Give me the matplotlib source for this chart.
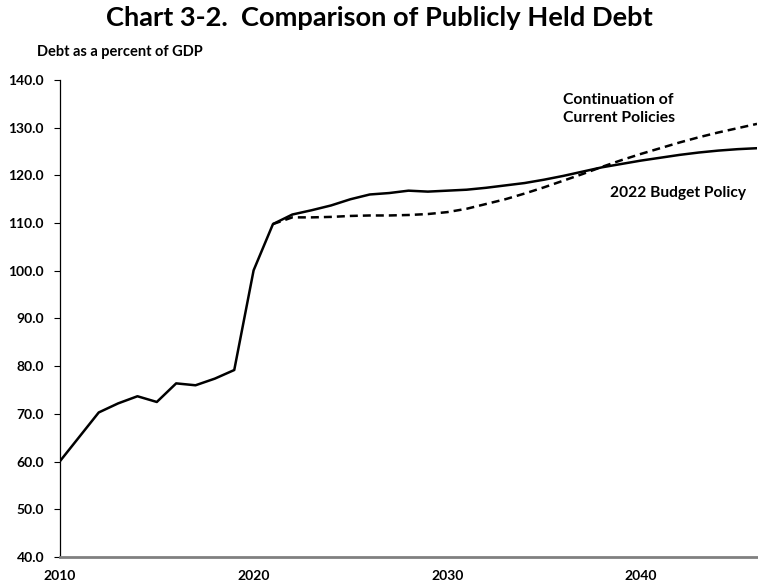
import matplotlib
matplotlib.use("Agg")
import matplotlib.pyplot as plt

years_hist = list(range(2010, 2047))
budget_policy = [60.1, 65.2, 70.3, 72.2, 73.7, 72.5, 76.4, 76.0, 77.4, 79.2,
                 100.1, 109.8, 111.8, 112.7, 113.7, 115.0, 116.0, 116.3, 116.8, 116.6,
                 116.8, 117.0, 117.4, 117.9, 118.4, 119.1, 119.9, 120.8, 121.7, 122.4,
                 123.1, 123.7, 124.3, 124.8, 125.2, 125.5, 125.7]
years_cur = list(range(2021, 2047))
current_policies = [109.8, 111.2, 111.2, 111.3, 111.5, 111.6, 111.6, 111.7, 111.9, 112.3,
                    113.0, 114.0, 115.0, 116.2, 117.5, 118.9, 120.3, 121.8, 123.2, 124.5,
                    125.7, 126.9, 128.0, 129.0, 129.9, 130.8]
y_ticks = [40, 50, 60, 70, 80, 90, 100, 110, 120, 130, 140]
x_ticks = [2010, 2020, 2030, 2040]

plt.rcParams['font.family'] = ['Lato', 'DejaVu Sans']
fig = plt.figure(figsize=(7.58, 5.86), dpi=100)
ax = fig.add_axes([60/758, 29/586, 697/758, 477/586])

ax.plot(years_cur, current_policies, color='black', lw=1.8, dashes=(3.2, 2.0), zorder=2)
ax.plot(years_hist, budget_policy, color='black', lw=1.8, zorder=3)

ax.set_xlim(2010, 2046)
ax.set_ylim(40, 140)
ax.set_yticks(y_ticks)
ax.set_yticklabels([f"{v:.1f}" for v in y_ticks], fontsize=10, fontweight='bold')
ax.set_xticks(x_ticks)
ax.set_xticklabels([str(v) for v in x_ticks], fontsize=10, fontweight='bold')
ax.tick_params(axis='y', direction='out', length=4.5, width=0.8, pad=7)
ax.tick_params(axis='x', length=0, pad=9.5)
ax.spines['top'].set_visible(False)
ax.spines['right'].set_visible(False)
ax.spines['left'].set_linewidth(0.9)
ax.spines['bottom'].set_color('#808080')
ax.spines['bottom'].set_linewidth(2)

fig.text(0.5, 1 - 18/586, "Chart 3-2.  Comparison of Publicly Held Debt", ha='center', va='center',
         fontsize=19.6, fontweight='bold')
fig.text(37/758, 1 - 52/586, "Debt as a percent of GDP", ha='left', va='center',
         fontsize=10.5, fontweight='bold')
ax.text(2036.0, 133.9, "Continuation of\nCurrent Policies", ha='left', va='center',
        fontsize=11.3, fontweight='bold', linespacing=1.3)
ax.text(2038.4, 116.3, "2022 Budget Policy", ha='left', va='center',
        fontsize=11.2, fontweight='bold')

fig.savefig("out.png", dpi=100)
